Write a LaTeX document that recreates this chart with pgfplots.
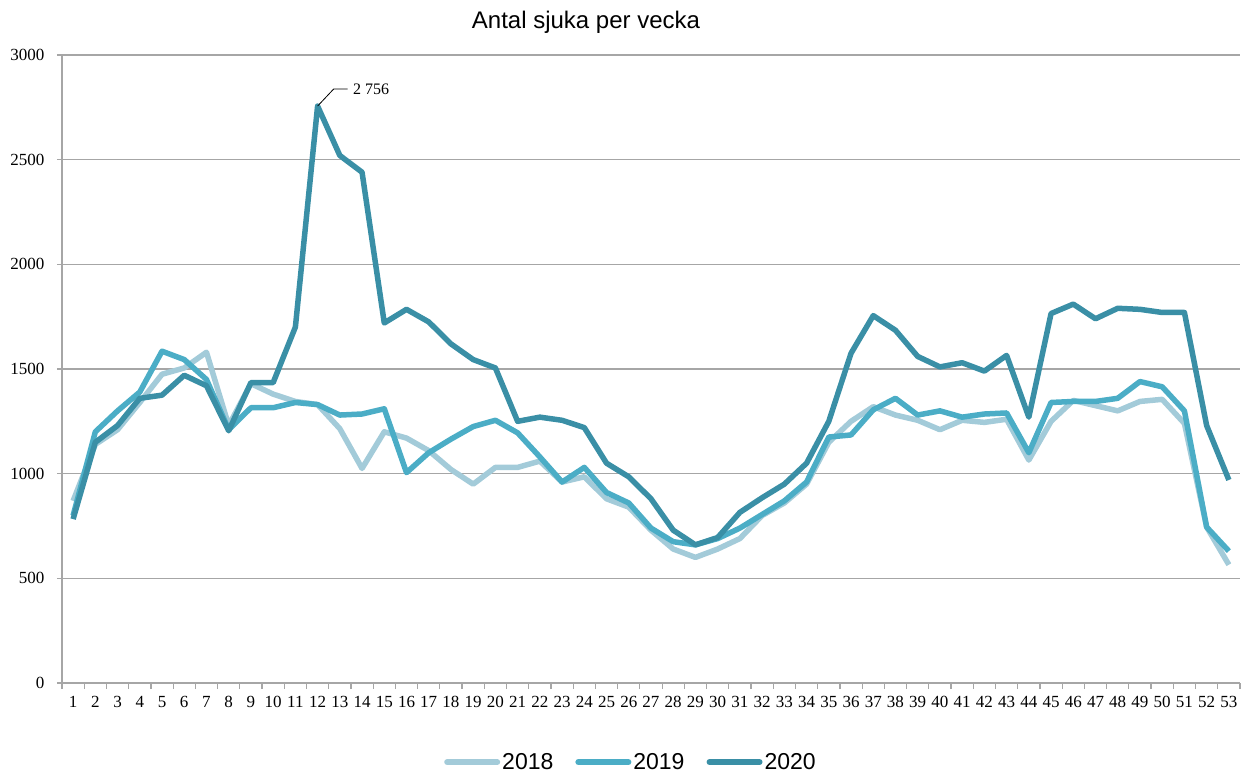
\documentclass[border=0pt]{standalone}
\usepackage{pgfplots}
\pgfplotsset{compat=1.18}
\usepackage{pgfplotstable}
\usepackage{fontspec}
\setmainfont{Liberation Serif}
\newfontfamily\arial{Liberation Sans}
\definecolor{c18}{HTML}{A3CBD9}
\definecolor{c19}{HTML}{4BADC6}
\definecolor{c20}{HTML}{3A8FA6}
\definecolor{gridc}{HTML}{A6A6A6}
\pgfplotstableread{
w a b c
1 870 800 783
2 1140 1200 1150
3 1210 1300 1230
4 1340 1390 1360
5 1475 1585 1375
6 1505 1545 1470
7 1580 1450 1420
8 1230 1210 1205
9 1430 1315 1435
10 1380 1315 1435
11 1345 1340 1700
12 1330 1330 2756
13 1215 1280 2520
14 1025 1285 2440
15 1200 1310 1720
16 1170 1005 1785
17 1110 1100 1725
18 1020 1165 1620
19 950 1225 1545
20 1030 1255 1505
21 1030 1195 1250
22 1060 1080 1270
23 960 960 1255
24 985 1030 1220
25 880 910 1050
26 840 860 985
27 730 740 880
28 640 675 730
29 600 660 660
30 640 690 695
31 690 740 815
32 800 805 885
33 860 870 950
34 950 960 1050
35 1150 1175 1250
36 1250 1185 1575
37 1320 1305 1755
38 1280 1360 1685
39 1255 1280 1560
40 1210 1300 1510
41 1255 1270 1530
42 1245 1285 1490
43 1260 1290 1565
44 1065 1100 1270
45 1250 1340 1765
46 1350 1345 1810
47 1325 1345 1740
48 1300 1360 1790
49 1345 1440 1785
50 1355 1415 1770
51 1240 1300 1770
52 745 745 1230
53 565 630 970
}\data
\begin{document}
\begin{tikzpicture}
\path[use as bounding box] (-62pt,-89pt) rectangle (1188pt,683pt);
\begin{axis}[
  scale only axis,
  width=1178pt, height=628pt,
  xmin=0.5, xmax=53.5, ymin=0, ymax=3000,
  axis x line*=bottom, axis y line*=left,
  axis line style={gridc, line width=1.2pt, -},
  xtick={1,...,53},
  minor xtick={0.5,1.5,...,53.5},
  ytick={0,500,...,3000},
  ymajorgrids,
  grid style={gridc, line width=1.2pt},
  major x tick style={draw=none},
  minor x tick style={gridc, line width=1.2pt},
  major y tick style={gridc, line width=1.2pt},
  tick align=outside,
  major tick length=5pt, minor tick length=6pt,
  tick label style={font=\fontsize{17}{20}\selectfont},
  /pgf/number format/assume math mode=true,
  /pgf/number format/1000 sep={},
  xticklabel style={yshift=-5pt},
  yticklabel style={xshift=-9pt},
  legend columns=3,
  legend style={draw=none, at={(0.483,-0.126)}, anchor=center,
    font=\arial\fontsize{23}{27}\selectfont,
    /tikz/every even column/.append style={column sep=20pt}},
  legend image code/.code={\draw[#1, line width=6pt, line cap=round] (0pt,0pt) -- (50pt,0pt);},
  every axis plot/.append style={line width=5.5pt, line join=round},
  clip=false,
]
\addplot[c18] table[x=w, y=a] {\data};
\addlegendentry{2018}
\addplot[c19] table[x=w, y=b] {\data};
\addlegendentry{2019}
\addplot[c20] table[x=w, y=c] {\data};
\addlegendentry{2020}
\draw[black, line width=0.8pt] (axis cs:12,2756) -- ++(16pt,17pt) -- ++(14pt,0pt)
  node[right, font=\fontsize{16}{18}\selectfont, inner sep=5pt] {2 756};
\end{axis}
\node[font=\arial\fontsize{24}{28}\selectfont] at (524pt,661pt) {Antal sjuka per vecka};
\end{tikzpicture}
\end{document}
